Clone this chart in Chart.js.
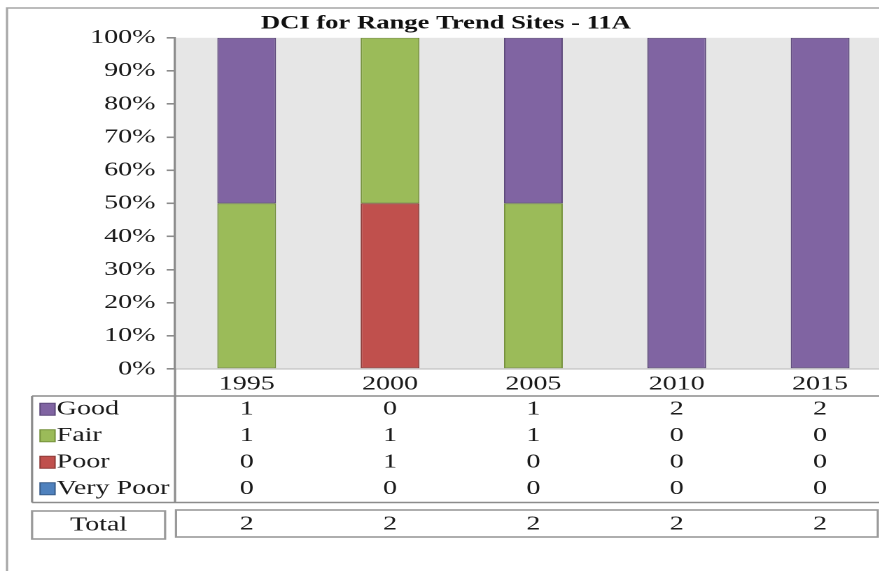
<!DOCTYPE html>
<html>
<head>
<meta charset="utf-8">
<script src="https://cdn.jsdelivr.net/npm/chart.js@4.4.1/dist/chart.umd.min.js"></script>
<style>
  html, body { margin: 0; padding: 0; background: #fff; overflow: hidden; }
  /* the original picture is stretched sideways, so the chart is drawn narrow and widened */
  #wrap { width: 637px; height: 571px; transform: scaleX(1.4); transform-origin: 0 0; }
</style>
</head>
<body>
<div id="wrap">
  <canvas id="chart" width="637" height="571" style="width:637px;height:571px"></canvas>
</div>
<script>
// data
var years = ['1995', '2000', '2005', '2010', '2015'];
var good = [1, 0, 1, 2, 2];
var fair = [1, 1, 1, 0, 0];
var poor = [0, 1, 0, 0, 0];
var veryPoor = [0, 0, 0, 0, 0];

var totals = years.map(function(y, i) {
    return good[i] + fair[i] + poor[i] + veryPoor[i];
});

function pct(arr) {
    return arr.map(function(v, i) { return v ? v / totals[i] * 100 : null; });
}

var serif = '"Liberation Serif", "Times New Roman", serif';
var gridGray = '#8c8c8c';

// table rows, top to bottom
var rows = [
    { label: 'Good', values: good, fill: '#8064A2', edge: '#5E4A7C' },
    { label: 'Fair', values: fair, fill: '#9BBB59', edge: '#76923C' },
    { label: 'Poor', values: poor, fill: '#C0504D', edge: '#8E3B38' },
    { label: 'Very Poor', values: veryPoor, fill: '#4F81BD', edge: '#385D8A' }
];

var frameAndTable = {
    id: 'frameAndTable',
    beforeDraw: function(chart) {
        var ctx = chart.ctx, a = chart.chartArea;
        ctx.save();
        ctx.fillStyle = '#e6e6e6';
        ctx.fillRect(a.left, a.top, a.right - a.left, a.bottom - a.top);
        // outer frame
        ctx.strokeStyle = '#a6a6a6';
        ctx.lineWidth = 1.6;
        ctx.beginPath();
        ctx.moveTo(5, 571);
        ctx.lineTo(5, 8);
        ctx.lineTo(637, 8);
        ctx.stroke();
        ctx.restore();
    },
    afterDraw: function(chart) {
        var ctx = chart.ctx, a = chart.chartArea, x = chart.scales.x;
        var tableTop = 396, rowH = 26.5, tableLeft = 22.9;
        var tableBottom = tableTop + rowH * rows.length + 0.5;
        ctx.save();
        ctx.strokeStyle = gridGray;
        ctx.lineWidth = 1.6;
        ctx.beginPath();
        // axis line carried down through the table
        ctx.moveTo(a.left, a.bottom);
        ctx.lineTo(a.left, tableBottom);
        ctx.moveTo(tableLeft, tableTop);
        ctx.lineTo(637, tableTop);
        ctx.moveTo(tableLeft, tableBottom);
        ctx.lineTo(637, tableBottom);
        ctx.moveTo(tableLeft, tableTop);
        ctx.lineTo(tableLeft, tableBottom);
        ctx.stroke();

        ctx.font = '20px ' + serif;
        ctx.fillStyle = '#1a1a1a';
        ctx.textBaseline = 'middle';
        rows.forEach(function(r, ri) {
            var cy = tableTop + rowH * (ri + 0.5);
            ctx.fillStyle = r.fill;
            ctx.strokeStyle = r.edge;
            ctx.lineWidth = 1;
            ctx.fillRect(28.6, cy - 6, 10.7, 12);
            ctx.strokeRect(28.6, cy - 6, 10.7, 12);
            ctx.fillStyle = '#1a1a1a';
            ctx.textAlign = 'left';
            ctx.fillText(r.label, 40.5, cy);
            ctx.textAlign = 'center';
            r.values.forEach(function(v, i) {
                ctx.fillText(String(v), x.getPixelForValue(i), cy);
            });
        });

        // total row
        ctx.strokeStyle = '#9a9a9a';
        ctx.lineWidth = 1.6;
        ctx.strokeRect(22.9, 511, 95, 28);
        ctx.strokeRect(125.7, 510, 501.3, 27);
        ctx.textAlign = 'center';
        ctx.fillText('Total', 70.4, 525);
        totals.forEach(function(t, i) {
            ctx.fillText(String(t), x.getPixelForValue(i), 524);
        });
        ctx.restore();
    }
};

var ctx = document.getElementById('chart').getContext('2d');
var chart = new Chart(ctx, {
    type: 'bar',
    data: {
        labels: years,
        datasets: rows.slice().reverse().map(function(r) {
            return {
                label: r.label,
                data: pct(r.values),
                backgroundColor: r.fill,
                borderColor: r.edge,
                borderWidth: 1,
                borderSkipped: false
            };
        })
    },
    options: {
        responsive: false,
        animation: false,
        devicePixelRatio: 2,
        layout: { padding: { left: 0, right: 0, top: 0, bottom: 175 } },
        categoryPercentage: 1,
        barPercentage: 0.41,
        plugins: {
            legend: { display: false },
            tooltip: { enabled: false },
            title: {
                display: true,
                text: 'DCI for Range Trend Sites - 11A',
                color: '#111',
                font: { family: serif, size: 19, weight: 'bold' },
                padding: { top: 12, bottom: 3 }
            }
        },
        scales: {
            x: {
                stacked: true,
                grid: { display: false, drawTicks: false },
                border: { display: true, color: '#b8b8b8', width: 1 },
                ticks: { color: '#1a1a1a', font: { family: serif, size: 20 }, padding: 3 },
                afterFit: function(s) { s.height = 27; }
            },
            y: {
                stacked: true,
                min: 0,
                max: 100,
                grid: { drawOnChartArea: false, tickLength: 6, color: gridGray, lineWidth: 1.6 },
                border: { display: true, color: gridGray, width: 1.6 },
                ticks: {
                    stepSize: 10,
                    padding: 8,
                    color: '#1a1a1a',
                    font: { family: serif, size: 20 },
                    callback: function(v) { return v + '%'; }
                },
                afterFit: function(s) { s.width = 125; }
            }
        }
    },
    plugins: [frameAndTable]
});
</script>
</body>
</html>
